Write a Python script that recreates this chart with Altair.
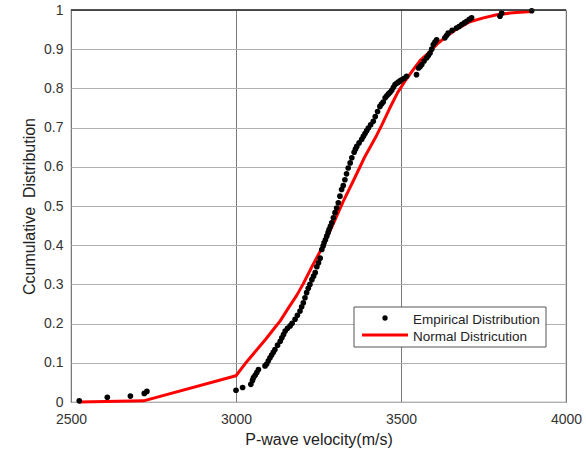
import altair as alt
import pandas as pd

# Empirical distribution
emp_x = [2525, 2610, 2680, 2722, 2730,
         3000, 3020, 3045, 3050, 3053, 3058, 3063, 3068, 3088, 3093, 3098, 3103, 3108, 3113,
         3118, 3126, 3134, 3139, 3144, 3149, 3156, 3164, 3170, 3179, 3186, 3194, 3199, 3204,
         3209, 3214, 3219, 3224, 3230, 3235, 3240, 3245, 3250, 3255,
         3260, 3264, 3267, 3271, 3275, 3279, 3282, 3286, 3290, 3295, 3300, 3305, 3310, 3315,
         3320, 3325, 3330, 3335, 3340, 3346, 3351, 3358, 3362, 3366, 3373, 3381, 3386, 3391,
         3396, 3401, 3408, 3416, 3422, 3429, 3436, 3441, 3446, 3452, 3457, 3462, 3467, 3472,
         3477, 3482, 3487, 3492, 3497, 3502, 3510, 3517, 3547, 3553, 3558, 3563, 3570, 3578,
         3583, 3588, 3593, 3598, 3603, 3608, 3633, 3638, 3643, 3655, 3668, 3676, 3684, 3692,
         3699, 3707, 3714, 3800, 3805, 3896]
emp_p = [0.003, 0.012, 0.015, 0.022, 0.027,
         0.030, 0.037, 0.045, 0.055, 0.062, 0.068, 0.075, 0.083, 0.092, 0.097, 0.105, 0.113, 0.120, 0.127,
         0.134, 0.145, 0.155, 0.164, 0.172, 0.181, 0.188, 0.194, 0.201, 0.211, 0.221, 0.232, 0.243, 0.253,
         0.266, 0.279, 0.290, 0.300, 0.312, 0.321, 0.330, 0.345, 0.355, 0.367,
         0.389, 0.398, 0.406, 0.414, 0.423, 0.432, 0.440, 0.448, 0.457, 0.470, 0.483, 0.495, 0.508, 0.525,
         0.542, 0.552, 0.567, 0.582, 0.597, 0.610, 0.623, 0.637, 0.645, 0.652, 0.661, 0.670, 0.678, 0.685,
         0.692, 0.699, 0.707, 0.716, 0.728, 0.741, 0.754, 0.760, 0.765, 0.776, 0.781, 0.786, 0.790, 0.795,
         0.803, 0.810, 0.813, 0.816, 0.819, 0.822, 0.826, 0.831, 0.835, 0.852, 0.856, 0.861, 0.870, 0.878,
         0.884, 0.890, 0.900, 0.912, 0.918, 0.924, 0.929, 0.935, 0.941, 0.948, 0.954, 0.958, 0.963, 0.967,
         0.971, 0.976, 0.980, 0.984, 0.992, 0.998]

# Normal distribution curve (vertices)
norm_x = [2525, 2720, 3000, 3028, 3058, 3090, 3118, 3134, 3159, 3184, 3204, 3230, 3265,
          3295, 3325, 3356, 3390, 3426, 3441, 3465, 3490, 3515, 3537, 3560, 3588, 3612, 3638,
          3670, 3709, 3750, 3790, 3840, 3896]
norm_p = [0.000, 0.003, 0.067, 0.098, 0.128, 0.160, 0.190, 0.207, 0.240, 0.272, 0.302, 0.345, 0.400,
          0.455, 0.512, 0.565, 0.625, 0.680, 0.705, 0.748, 0.790, 0.822, 0.848, 0.873, 0.894, 0.915, 0.933,
          0.952, 0.970, 0.980, 0.988, 0.993, 0.996]

x_ticks = [2500, 3000, 3500, 4000]
y_ticks = [0, 0.1, 0.2, 0.3, 0.4, 0.5, 0.6, 0.7, 0.8, 0.9, 1.0]

legend_labels = ["Empirical Distribution", "Normal Districution"]

FONT = "Liberation Sans"

emp = pd.DataFrame({"x": emp_x, "p": emp_p})
nrm = pd.DataFrame({"x": norm_x, "p": norm_p, "o": list(range(len(norm_x)))})

xs = alt.Scale(domain=[2500, 4000], nice=False, zero=False)
ys = alt.Scale(domain=[0, 1], nice=False)

xaxis = alt.Axis(values=x_ticks, format="d", title="P-wave velocity(m/s)", ticks=False, labelPadding=10,
                 labelFlush=False, labelOverlap=False,
                 gridColor="#7a7a7a", gridOpacity=1, domain=False,
                 labelFont=FONT, labelFontSize=14, labelColor="#333333",
                 titleFont=FONT, titleFontSize=16, titleFontWeight="normal", titleColor="#222222",
                 titlePadding=5)
yaxis = alt.Axis(values=y_ticks, format="~g", title="Ccumulative\u00a0 Distribution", ticks=False,
                 labelPadding=8, labelFlush=False, labelOverlap=False,
                 gridColor="#b0b0b0", gridOpacity=1, domain=False,
                 labelFont=FONT, labelFontSize=14, labelColor="#333333",
                 titleFont=FONT, titleFontSize=16, titleFontWeight="normal", titleColor="#222222",
                 titlePadding=6)

line = alt.Chart(nrm).mark_line(color="#ff0000", strokeWidth=3, strokeJoin="round").encode(
    x=alt.X("x:Q", scale=xs, axis=xaxis),
    y=alt.Y("p:Q", scale=ys, axis=yaxis),
    order="o:Q",
)

pts = alt.Chart(emp).mark_circle(color="#000000", size=32, opacity=1).encode(
    x=alt.X("x:Q", scale=xs, axis=xaxis),
    y=alt.Y("p:Q", scale=ys, axis=yaxis),
)

# Dark top border of the plot frame (decoration)
top = alt.Chart(pd.DataFrame({"a": [0]})).mark_rule(color="#222222", strokeWidth=1.5).encode(
    x=alt.value(0), x2=alt.value(495), y=alt.value(0))

# Legend (decoration)
box = alt.Chart(pd.DataFrame({"a": [0]})).mark_rect(fill="white", stroke="#555555", strokeWidth=1).encode(
    x=alt.value(283), x2=alt.value(475), y=alt.value(297), y2=alt.value(337))
dot = alt.Chart(pd.DataFrame({"a": [0]})).mark_circle(color="black", size=28, opacity=1).encode(
    x=alt.value(314), y=alt.value(308))
seg = alt.Chart(pd.DataFrame({"a": [0]})).mark_rule(color="#ff0000", strokeWidth=3).encode(
    x=alt.value(291), x2=alt.value(337), y=alt.value(325))
txt1 = alt.Chart(pd.DataFrame({"t": [legend_labels[0]]})).mark_text(
    align="left", baseline="middle", font=FONT, fontSize=13.5, color="#222222").encode(
    x=alt.value(342), y=alt.value(310), text="t:N")
txt2 = alt.Chart(pd.DataFrame({"t": [legend_labels[1]]})).mark_text(
    align="left", baseline="middle", font=FONT, fontSize=13.5, color="#222222").encode(
    x=alt.value(342), y=alt.value(327), text="t:N")

chart = alt.layer(line, pts, top, box, dot, seg, txt1, txt2).properties(
    width=495, height=392,
    autosize=alt.AutoSizeParams(type="none"),
    padding={"left": 71, "top": 10, "right": 20, "bottom": 50},
    background="white",
).configure_view(stroke="#808080", strokeWidth=1.2)

chart.save("out.html", embed_options={"renderer": "svg", "actions": False})
